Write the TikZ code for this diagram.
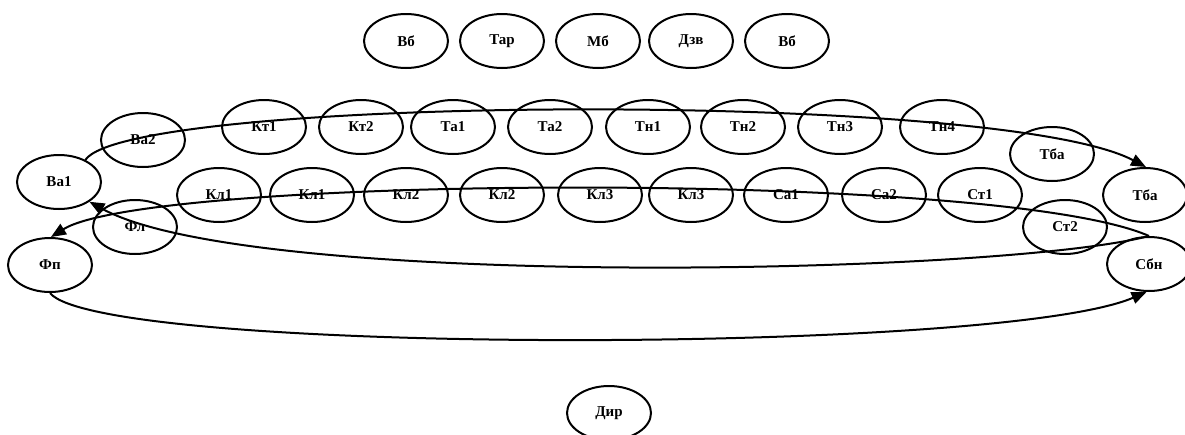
\documentclass[tikz,border=0pt]{standalone}
\usepackage{fontspec}
\setmainfont{Liberation Serif}
\usetikzlibrary{shapes.geometric,arrows.meta}
\tikzset{
  st/.style={ellipse,draw,line width=2pt,minimum width=84pt,minimum height=54pt,inner sep=0pt,font=\fontsize{15}{16}\selectfont\bfseries},
  conn/.style={line width=2pt,-{Triangle[length=15pt,width=12pt]}}
}
\begin{document}
\begin{tikzpicture}[x=1pt,y=-1pt]
\useasboundingbox (0,0) rectangle (1185,434);
% top row
\node[st] (vb1) at (406,41) {Вб};
\node[st] (tar) at (502,41) {Тар};
\node[st] (mb) at (598,41) {Мб};
\node[st] (dzv) at (691,41) {Дзв};
\node[st] (vb2) at (787,41) {Вб};
% second row
\node[st] (va2) at (143,140) {Ва2};
\node[st] (kt1) at (264,127) {Кт1};
\node[st] (kt2) at (361,127) {Кт2};
\node[st] (ta1) at (453,127) {Та1};
\node[st] (ta2) at (550,127) {Та2};
\node[st] (tn1) at (648,127) {Тн1};
\node[st] (tn2) at (743,127) {Тн2};
\node[st] (tn3) at (840,127) {Тн3};
\node[st] (tn4) at (942,127) {Тн4};
\node[st] (tba1) at (1052,154) {Тба};
% third row
\node[st] (va1) at (59,182) {Ва1};
\node[st] (kl1a) at (219,195) {Кл1};
\node[st] (kl1b) at (312,195) {Кл1};
\node[st] (kl2a) at (406,195) {Кл2};
\node[st] (kl2b) at (502,195) {Кл2};
\node[st] (kl3a) at (600,195) {Кл3};
\node[st] (kl3b) at (691,195) {Кл3};
\node[st] (ca1) at (786,195) {Са1};
\node[st] (ca2) at (884,195) {Са2};
\node[st] (ct1) at (980,195) {Ст1};
\node[st] (tba2) at (1145,195) {Тба};
% lower
\node[st] (fl) at (135,227) {Фл};
\node[st] (ct2) at (1065,227) {Ст2};
\node[st] (fp) at (50,265) {Фп};
\node[st] (sbn) at (1149,264) {Сбн};
\node[st] (dir) at (609,413) {Дир};
% connectors
\draw[conn] (va1.40) .. controls (130,95) and (1000,90) .. (tba2.88);
\draw[conn] (sbn.north) .. controls (1000,170) and (150,175) .. (fp.88);
\draw[conn] (sbn.north) .. controls (1000,275) and (250,290) .. (va1.-33);
\draw[conn] (fp.south) .. controls (100,355) and (1000,355) .. (sbn.265);
\end{tikzpicture}
\end{document}
